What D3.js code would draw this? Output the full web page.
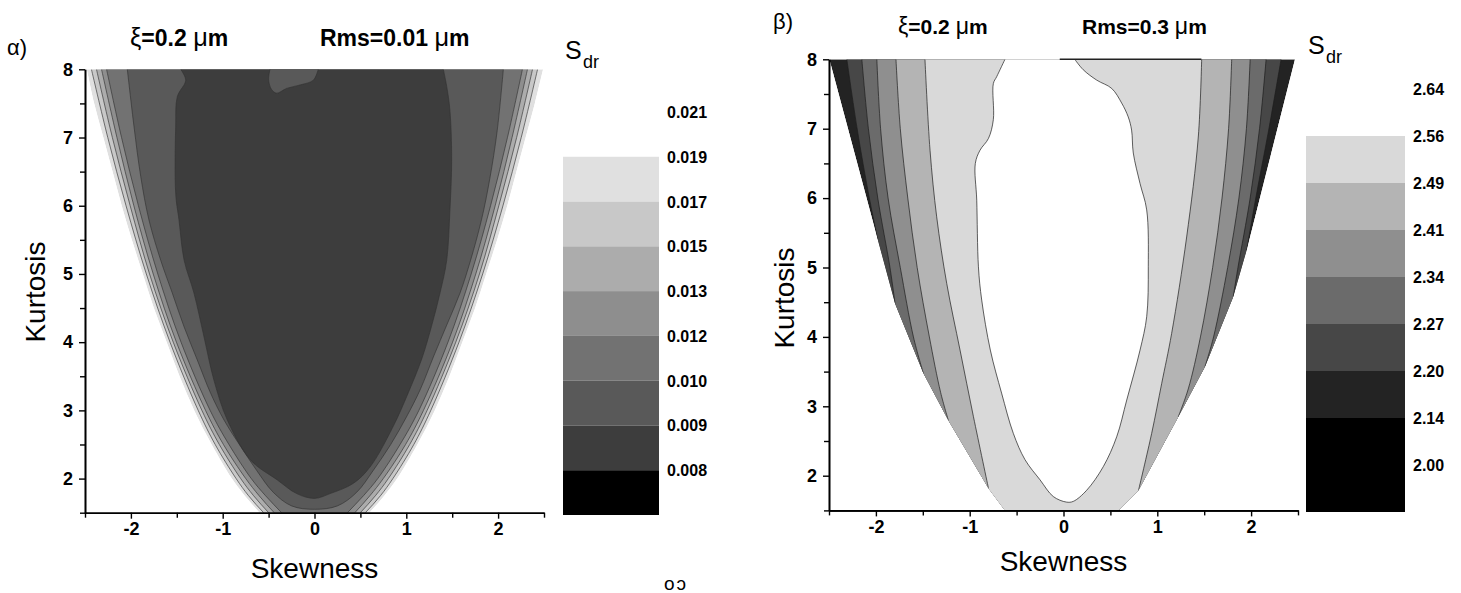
<!DOCTYPE html>
<html>
<head>
<meta charset="utf-8">
<script src="https://cdn.jsdelivr.net/npm/d3@7"></script>
<style>
  body { margin: 0; background: #ffffff; }
  svg text { font-family: Arial, "Liberation Sans", sans-serif; fill: #000; }
</style>
</head>
<body>
<svg id="chart" width="1461" height="593"></svg>
<script>
// ---------- shared axis values ----------
const skewTicks = [-2, -1, 0, 1, 2];
const skewMinor = [-2.5, -1.5, -0.5, 0.5, 1.5, 2.5];
const kurtTicks = [2, 3, 4, 5, 6, 7, 8];
const kurtMinor = [1.5, 2.5, 3.5, 4.5, 5.5, 6.5, 7.5];

// ---------- panel α : ξ=0.2 μm, Rms=0.01 μm ----------
const levelsA = ["0.021", "0.019", "0.017", "0.015", "0.013", "0.012", "0.010", "0.009", "0.008"];
const shadesA = ["#ffffff", "#e0e0e0", "#c8c8c8", "#acacac", "#8e8e8e", "#727272", "#595959", "#3d3d3d", "#000000"];

// boundary of the computed (S, K) domain, [skewness, kurtosis]
const edgeALeft = [[-2.48, 8], [-2.40, 7.5], [-2.30, 7], [-2.20, 6.5], [-2.10, 6], [-1.99, 5.5], [-1.87, 5],
  [-1.75, 4.5], [-1.61, 4], [-1.47, 3.5], [-1.31, 3], [-1.12, 2.5], [-0.90, 2], [-0.76, 1.75], [-0.60, 1.5], [-0.44, 1.25]];
const edgeARight = [[0.44, 1.25], [0.60, 1.5], [0.76, 1.75], [0.90, 2], [1.12, 2.5], [1.31, 3], [1.47, 3.5], [1.61, 4],
  [1.75, 4.5], [1.87, 5], [1.99, 5.5], [2.10, 6], [2.20, 6.5], [2.30, 7], [2.40, 7.5], [2.49, 8]];

// thin outer isolines: |skewness| at each kurtosis of stripeK
const stripeK = [8, 7, 6, 5, 4, 3, 2.5, 2, 1.75, 1.5, 1.3];
const isoA017 = [2.43, 2.252, 2.053, 1.832, 1.574, 1.267, 1.082, 0.854, 0.719, 0.554, 0.40];
const isoA015 = [2.375, 2.202, 2.008, 1.797, 1.539, 1.227, 1.037, 0.804, 0.664, 0.499, 0.35];
const isoA013 = [2.32, 2.152, 1.968, 1.757, 1.504, 1.187, 0.992, 0.749, 0.604, 0.439, 0.29];
const isoA012 = [2.265, 2.102, 1.918, 1.707, 1.454, 1.137, 0.932, 0.689, 0.534, 0.359, 0.22];

// S_dr = 0.010 isoline
const isoA010 = [[-2.039, 8], [-1.966, 7.16], [-1.893, 6.43], [-1.803, 5.79], [-1.675, 5.20], [-1.549, 4.72],
  [-1.422, 4.23], [-1.277, 3.74], [-1.131, 3.25], [-0.986, 2.86], [-0.804, 2.47], [-0.63, 2.12], [-0.45, 1.80],
  [-0.25, 1.60], [0, 1.55], [0.25, 1.60], [0.46, 1.80], [0.64, 2.12], [0.83, 2.5], [1.0, 2.9], [1.15, 3.3],
  [1.30, 3.8], [1.44, 4.25], [1.585, 4.72], [1.70, 5.2], [1.82, 5.8], [1.91, 6.4], [1.99, 7.1], [2.057, 8]];

// S_dr = 0.009 isoline (dark core)
const isoA009 = [[-1.458, 8], [-1.403, 7.84], [-1.494, 7.60], [-1.512, 7.16], [-1.512, 6.18], [-1.476, 5.79],
  [-1.42, 5.20], [-1.313, 4.72], [-1.204, 4.08], [-1.095, 3.44], [-0.95, 2.86], [-0.695, 2.27], [-0.405, 1.98],
  [-0.194, 1.78], [0, 1.71], [0.17, 1.78], [0.423, 1.93], [0.605, 2.17], [0.859, 2.77], [1.022, 3.26],
  [1.167, 3.75], [1.274, 4.23], [1.367, 4.72], [1.44, 5.2], [1.475, 5.93], [1.494, 6.67], [1.475, 7.40],
  [1.44, 7.75], [1.403, 8]];

// small island above 0.009 near the top
const islandA = [[-0.485, 8], [-0.50, 7.84], [-0.466, 7.70], [-0.412, 7.65], [-0.303, 7.72], [-0.158, 7.77],
  [-0.013, 7.84], [0.041, 8]];

// ---------- panel β : ξ=0.2 μm, Rms=0.3 μm ----------
const levelsB = ["2.64", "2.56", "2.49", "2.41", "2.34", "2.27", "2.20", "2.14", "2.00"];
const shadesB = ["#ffffff", "#d9d9d9", "#b4b4b4", "#8f8f8f", "#6b6b6b", "#474747", "#232323", "#000000", "#000000"];

const edgeBLeft = [[-2.496, 8], [-1.98, 5.4], [-1.796, 4.48], [-1.495, 3.48], [-1.228, 2.80], [-0.80, 1.82],
  [-0.624, 1.5], [-0.50, 1.2]];
const edgeBRight = [[0.45, 1.2], [0.584, 1.5], [0.80, 1.79], [1.224, 2.85], [1.508, 3.57], [1.81, 4.58],
  [1.953, 5.25], [2.468, 8]];

// isolines that end on the domain boundary: left branch (top→end), right branch (end→top)
const isoB220L = [[-2.31, 8], [-2.20, 7], [-2.07, 6], [-1.98, 5.4]];
const isoB220R = [[1.953, 5.25], [2.05, 6], [2.19, 7], [2.32, 8]];
const isoB227L = [[-2.15, 8], [-2.08, 7], [-1.98, 6], [-1.85, 5], [-1.796, 4.48]];
const isoB227R = [[1.81, 4.58], [1.86, 5], [1.99, 6], [2.09, 7], [2.16, 8]];
const isoB234L = [[-1.99, 8], [-1.95, 7], [-1.87, 6], [-1.74, 5], [-1.60, 4], [-1.495, 3.48]];
const isoB234R = [[1.508, 3.57], [1.60, 4], [1.75, 5], [1.87, 6], [1.95, 7], [1.99, 8]];
const isoB241L = [[-1.786, 8], [-1.74, 7], [-1.66, 6], [-1.56, 5], [-1.43, 4], [-1.31, 3.2], [-1.228, 2.80]];
const isoB241R = [[1.224, 2.85], [1.33, 3.25], [1.46, 4], [1.59, 5], [1.69, 6], [1.76, 7], [1.793, 8]];
const isoB249L = [[-1.477, 8], [-1.423, 6.69], [-1.352, 5.73], [-1.245, 4.77], [-1.103, 3.81], [-0.96, 2.85], [-0.80, 1.82]];
const isoB249R = [[0.80, 1.79], [0.94, 2.61], [1.047, 3.33], [1.153, 4.05], [1.313, 5.44], [1.437, 6.88], [1.473, 8]];

// S_dr = 2.56 isoline (open white core)
const isoB256 = [[-0.624, 8], [-0.712, 7.75], [-0.748, 7.65], [-0.748, 7.13], [-0.80, 6.86], [-0.89, 6.69],
  [-0.94, 6.5], [-0.925, 5.97], [-0.907, 5.01], [-0.872, 4.53], [-0.78, 3.81], [-0.66, 3.19], [-0.535, 2.61],
  [-0.41, 2.23], [-0.25, 1.94], [-0.109, 1.70], [0.03, 1.62], [0.104, 1.63], [0.247, 1.79], [0.424, 2.13],
  [0.567, 2.56], [0.674, 3.09], [0.816, 3.81], [0.887, 4.29], [0.904, 5.01], [0.887, 5.83], [0.816, 6.21],
  [0.744, 6.65], [0.726, 6.98], [0.69, 7.17], [0.62, 7.37], [0.514, 7.58], [0.354, 7.70], [0.21, 7.85], [0.12, 8]];
const topLineB = [[-0.04, 8], [1.47, 8]];

// ---------- drawing helpers ----------
const svg = d3.select("#chart");
const defs = svg.append("defs");

function gen(x, y, smooth) {
  return d3.line().x(d => x(d[0])).y(d => y(d[1]))
    .curve(smooth ? d3.curveCatmullRom.alpha(0.5) : d3.curveLinear);
}
// joins several polyline pieces into one path
function joined(x, y, segs, close) {
  const s = segs.map((seg, i) => {
    const p = gen(x, y, seg.smooth)(seg.pts);
    return i ? "L" + p.slice(1) : p;
  }).join("");
  return close ? s + "Z" : s;
}
const mirrorLeft = (mags) => stripeK.map((k, i) => [-mags[i], k]);
const mirrorRight = (mags) => stripeK.map((k, i) => [mags[i], k]).reverse();

function drawPanel(o) {
  const x = d3.scaleLinear().domain([-2.5, 2.5]).range([o.left, o.right]);
  const y = d3.scaleLinear().domain([1.5, 8]).range([o.bottom, o.top]);

  const domainPath = joined(x, y, [{ pts: o.edgeL, smooth: o.smoothEdge }, { pts: o.edgeR, smooth: o.smoothEdge }], true);
  defs.append("clipPath").attr("id", o.id + "-rect").append("rect")
    .attr("x", o.left).attr("y", o.top).attr("width", o.right - o.left).attr("height", o.bottom - o.top);
  defs.append("clipPath").attr("id", o.id + "-dom").append("path").attr("d", domainPath);

  const plot = svg.append("g").attr("clip-path", `url(#${o.id}-rect)`)
    .append("g").attr("clip-path", `url(#${o.id}-dom)`);

  plot.append("path").attr("d", domainPath).attr("fill", o.base);
  o.regions.forEach(r => {
    plot.append("path").attr("d", joined(x, y, r.segs, true)).attr("fill", r.fill);
  });
  o.lines.forEach(l => {
    plot.append("path").attr("d", gen(x, y, true)(l)).attr("fill", "none")
      .attr("stroke", o.lineColor).attr("stroke-width", o.lineWidth);
  });

  // axes
  const fontTick = g => g.attr("font-size", 18).attr("font-weight", "bold")
    .attr("font-family", "Arial, 'Liberation Sans', sans-serif");
  const styleAxis = g => {
    g.select(".domain").attr("stroke", "#000").attr("stroke-width", 1.6);
    g.selectAll(".tick line").attr("stroke", "#000").attr("stroke-width", 1.4);
    g.selectAll(".tick text").attr("fill", "#000");
  };
  svg.append("g").attr("transform", `translate(0,${o.bottom})`)
    .call(d3.axisBottom(x).tickValues(skewMinor).tickSize(5).tickFormat("").tickSizeOuter(0)).call(styleAxis);
  svg.append("g").attr("transform", `translate(0,${o.bottom})`)
    .call(d3.axisBottom(x).tickValues(skewTicks).tickSize(6).tickPadding(4).tickFormat(d => String(d)).tickSizeOuter(0))
    .call(fontTick).call(styleAxis);
  svg.append("g").attr("transform", `translate(${o.left},0)`)
    .call(d3.axisLeft(y).tickValues(kurtMinor).tickSize(5).tickFormat("").tickSizeOuter(0)).call(styleAxis);
  svg.append("g").attr("transform", `translate(${o.left},0)`)
    .call(d3.axisLeft(y).tickValues(kurtTicks).tickSize(6).tickPadding(6).tickFormat(d => String(d)).tickSizeOuter(0))
    .call(fontTick).call(styleAxis);

  if (o.topLine) {
    svg.append("path").attr("d", gen(x, y, false)(o.topLine)).attr("stroke", "#222")
      .attr("stroke-width", 1.4).attr("fill", "none");
  }

  // axis titles
  svg.append("text").attr("x", (o.left + o.right) / 2).attr("y", o.xTitleY).attr("text-anchor", "middle")
    .attr("font-size", 28).text("Skewness");
  svg.append("text").attr("transform", `translate(${o.yTitleX},${o.yTitleMid}) rotate(-90)`)
    .attr("text-anchor", "middle").attr("font-size", 28).text("Kurtosis");

  // colour bar
  const yb = d3.scaleLinear().domain([0, o.levels.length]).range([o.barTop, o.barBottom]);
  const bar = svg.append("g");
  o.shades.forEach((c, i) => {
    if (i === 0) return;
    bar.append("rect").attr("x", o.barX).attr("width", o.barW)
      .attr("y", yb(i)).attr("height", yb(i + 1) - yb(i)).attr("fill", c);
  });
  o.levels.forEach((lv, i) => {
    bar.append("text").attr("x", o.barX + o.barW + 8).attr("y", yb(i) + 6)
      .attr("font-size", 16).attr("font-weight", "bold").text(lv);
  });
  svg.append("text").attr("x", o.barX + 2).attr("y", o.sY).attr("font-size", 25).text("S");
  svg.append("text").attr("x", o.barX + 20).attr("y", o.sY + 9).attr("font-size", 18).text("dr");

  // headings
  svg.append("text").attr("x", o.tagX).attr("y", o.tagY).attr("font-size", 22).text(o.tag);
  const h1 = svg.append("text").attr("x", o.xiX).attr("y", o.headY).attr("font-size", o.headSize).attr("font-weight", "bold");
  h1.append("tspan").attr("font-weight", "normal").attr("font-size", o.headSize * 1.1).text("ξ");
  h1.append("tspan").text("=0.2 ");
  h1.append("tspan").attr("font-weight", "normal").attr("font-size", o.headSize * 1.1).text("μ");
  h1.append("tspan").text("m");
  const h2 = svg.append("text").attr("x", o.rmsX).attr("y", o.headY).attr("font-size", o.headSize).attr("font-weight", "bold");
  h2.append("tspan").text(o.rms + " ");
  h2.append("tspan").attr("font-weight", "normal").attr("font-size", o.headSize * 1.1).text("μ");
  h2.append("tspan").text("m");
}

// stripe regions (value below the level lies inside)
const stripeRegion = (mags, fill) => ({
  segs: [{ pts: mirrorLeft(mags), smooth: true }, { pts: mirrorRight(mags), smooth: true }], fill
});
const stripeLine = (mags) => mirrorLeft(mags).concat(mirrorRight(mags));

drawPanel({
  id: "pa", left: 85, right: 544, top: 69.3, bottom: 512.7,
  edgeL: edgeALeft, edgeR: edgeARight, smoothEdge: true,
  base: shadesA[1],
  regions: [
    stripeRegion(isoA017, shadesA[2]),
    stripeRegion(isoA015, shadesA[3]),
    stripeRegion(isoA013, shadesA[4]),
    stripeRegion(isoA012, shadesA[5]),
    { segs: [{ pts: isoA010, smooth: true }], fill: shadesA[6] },
    { segs: [{ pts: isoA009, smooth: true }], fill: shadesA[7] },
    { segs: [{ pts: islandA, smooth: true }], fill: shadesA[6] }
  ],
  lines: [stripeLine(isoA017), stripeLine(isoA015), stripeLine(isoA013), stripeLine(isoA012), isoA010, isoA009, islandA],
  lineColor: "#333333", lineWidth: 0.65,
  xTitleY: 578, yTitleX: 45, yTitleMid: 292,
  levels: levelsA, shades: shadesA, barX: 563, barW: 96, barTop: 112, barBottom: 515, sY: 59,
  tag: "α)", tagX: 7, tagY: 55, xiX: 130, rmsX: 320, headY: 46, headSize: 23, rms: "Rms=0.01"
});

// regions of panel β bounded by two branches meeting the domain edge
const branchRegion = (L, R, fill) => {
  const eL = L[L.length - 1], eR = R[0];
  return {
    segs: [
      { pts: L, smooth: true },
      { pts: [eL, [eL[0], 1.0], [eR[0], 1.0], eR], smooth: false },
      { pts: R, smooth: true }
    ], fill
  };
};

drawPanel({
  id: "pb", left: 829, right: 1298, top: 59.3, bottom: 510.4,
  edgeL: edgeBLeft, edgeR: edgeBRight, smoothEdge: false,
  base: shadesB[6],
  regions: [
    branchRegion(isoB220L, isoB220R, shadesB[5]),
    branchRegion(isoB227L, isoB227R, shadesB[4]),
    branchRegion(isoB234L, isoB234R, shadesB[3]),
    branchRegion(isoB241L, isoB241R, shadesB[2]),
    branchRegion(isoB249L, isoB249R, shadesB[1]),
    { segs: [{ pts: isoB256, smooth: true }], fill: shadesB[0] }
  ],
  lines: [isoB220L, isoB220R, isoB227L, isoB227R, isoB234L, isoB234R, isoB241L, isoB241R, isoB249L, isoB249R, isoB256],
  lineColor: "#1e1e1e", lineWidth: 0.7,
  topLine: topLineB,
  xTitleY: 571, yTitleX: 794, yTitleMid: 298,
  levels: levelsB, shades: shadesB, barX: 1306, barW: 99, barTop: 89, barBottom: 512, sY: 54,
  tag: "β)", tagX: 773, tagY: 29, xiX: 898, rmsX: 1082, headY: 34, headSize: 21, rms: "Rms=0.3"
});

// small glyphs at the lower edge of the page
svg.append("text").attr("x", 664).attr("y", 590).attr("font-size", 19).attr("letter-spacing", 2)
  .attr("fill", "#222").text("oɔ");
</script>
</body>
</html>
